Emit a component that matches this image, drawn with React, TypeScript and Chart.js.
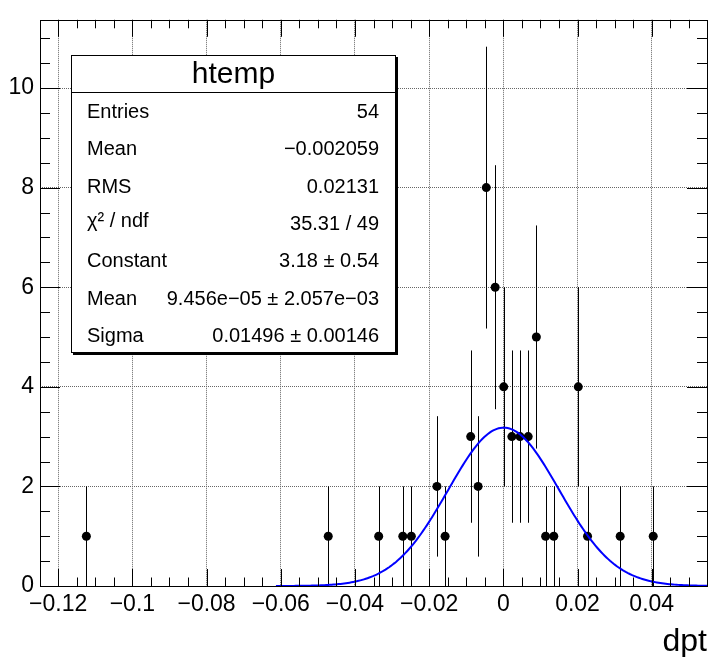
import React, { useEffect, useRef } from "react";
import { Chart, registerables } from "chart.js";

Chart.register(...registerables);

// ---- Data ----
const BIN_CENTERS = [
  -0.1124, -0.0472, -0.0336, -0.0271, -0.0248, -0.0179, -0.0157, -0.0088,
  -0.0068, -0.0046, -0.0022, 0.0001, 0.0023, 0.0045, 0.0067, 0.0089, 0.0114,
  0.0136, 0.0202, 0.0227, 0.0315, 0.0404,
];
const COUNTS = [1, 1, 1, 1, 1, 2, 1, 3, 2, 8, 6, 4, 3, 3, 3, 5, 1, 1, 4, 1, 1, 1];
const ERRORS = [
  1, 1, 1, 1, 1, 1.41, 1, 1.73, 1.41, 2.83, 2.45, 2, 1.73, 1.73, 1.73, 2.24, 1,
  1, 2, 1, 1, 1,
];

// Gaussian fit parameters (shown in the stats box)
const FIT_CONSTANT = 3.18;
const FIT_MEAN = 9.456e-5;
const FIT_SIGMA = 0.01496;
const FIT_XMIN = -0.0613;

// Axes
const X_MIN = -0.1249;
const X_MAX = 0.0549;
const Y_MIN = 0;
const Y_MAX = 11.37;
const X_TICKS = [-0.12, -0.1, -0.08, -0.06, -0.04, -0.02, 0, 0.02, 0.04];
const X_TICK_LABELS = ["\u22120.12", "\u22120.1", "\u22120.08", "\u22120.06", "\u22120.04", "\u22120.02", "0", "0.02", "0.04"];
const Y_TICKS = [0, 2, 4, 6, 8, 10];
const Y_TICK_LABELS = ["0", "2", "4", "6", "8", "10"];
const X_MINOR_STEP = 0.005;
const Y_MINOR_STEP = 0.5;
const X_TITLE = "dpt";

// Stats box
const STATS_TITLE = "htemp";
const STATS_LABELS = ["Entries", "Mean", "RMS", "\u03c7\u00b2 / ndf", "Constant", "Mean", "Sigma"];
const STATS_VALUES = [
  "54",
  "\u22120.002059",
  "0.02131",
  "35.31 / 49",
  "3.18 \u00b1 0.54",
  "9.456e\u221205 \u00b1 2.057e\u221203",
  "0.01496 \u00b1 0.00146",
];

const FONT = "'Liberation Sans', Arial, Helvetica, sans-serif";

function fitCurve() {
  const pts: { x: number; y: number }[] = [];
  const n = 240;
  for (let i = 0; i <= n; i++) {
    const x = FIT_XMIN + ((X_MAX - FIT_XMIN) * i) / n;
    const z = (x - FIT_MEAN) / FIT_SIGMA;
    pts.push({ x, y: FIT_CONSTANT * Math.exp(-0.5 * z * z) });
  }
  return pts;
}

const errorBarsPlugin = {
  id: "errorBars",
  beforeDatasetsDraw(chart: any) {
    const { ctx, scales, chartArea } = chart;
    const xs = scales.x;
    const ys = scales.y;
    ctx.save();
    ctx.beginPath();
    ctx.rect(chartArea.left, chartArea.top, chartArea.right - chartArea.left, chartArea.bottom - chartArea.top);
    ctx.clip();
    ctx.strokeStyle = "#000";
    ctx.lineWidth = 1;
    for (let i = 0; i < BIN_CENTERS.length; i++) {
      const px = Math.round(xs.getPixelForValue(BIN_CENTERS[i])) + 0.5;
      const y1 = ys.getPixelForValue(COUNTS[i] - ERRORS[i]);
      const y2 = ys.getPixelForValue(COUNTS[i] + ERRORS[i]);
      ctx.beginPath();
      ctx.moveTo(px, y1);
      ctx.lineTo(px, y2);
      ctx.stroke();
    }
    ctx.restore();
  },
};

const framePlugin = {
  id: "rootFrame",
  afterDatasetsDraw(chart: any) {
    const { ctx, scales, chartArea } = chart;
    const { left, right, top, bottom } = chartArea;
    const xs = scales.x;
    const ys = scales.y;
    ctx.save();
    ctx.strokeStyle = "#000";
    ctx.lineWidth = 1;
    const xMajLen = 17, xMinLen = 8.5, yMajLen = 20, yMinLen = 10;
    ctx.beginPath();
    const xStart = Math.ceil(X_MIN / X_MINOR_STEP - 1e-9);
    const xEnd = Math.floor(X_MAX / X_MINOR_STEP + 1e-9);
    for (let k = xStart; k <= xEnd; k++) {
      const v = k * X_MINOR_STEP;
      const major = Math.abs(k % 4) === 0;
      const len = major ? xMajLen : xMinLen;
      const px = Math.round(xs.getPixelForValue(v)) + 0.5;
      ctx.moveTo(px, bottom);
      ctx.lineTo(px, bottom - len);
      ctx.moveTo(px, top);
      ctx.lineTo(px, top + len);
    }
    const yEnd = Math.floor(Y_MAX / Y_MINOR_STEP + 1e-9);
    for (let k = 0; k <= yEnd; k++) {
      const v = k * Y_MINOR_STEP;
      const major = k % 4 === 0;
      const len = major ? yMajLen : yMinLen;
      const py = Math.round(ys.getPixelForValue(v)) + 0.5;
      ctx.moveTo(left, py);
      ctx.lineTo(left + len, py);
      ctx.moveTo(right, py);
      ctx.lineTo(right - len, py);
    }
    ctx.stroke();
    ctx.strokeRect(Math.round(left) + 0.5, Math.round(top) + 0.5, Math.round(right - left), Math.round(bottom - top));
    ctx.restore();
  },
  afterDraw(chart: any) {
    const { ctx } = chart;
    const bx = 71, by = 55, bw = 325, bh = 298;
    ctx.save();
    ctx.fillStyle = "#000";
    ctx.fillRect(bx + 2, by + 2, bw, bh);
    ctx.fillStyle = "#fff";
    ctx.fillRect(bx, by, bw, bh);
    ctx.strokeStyle = "#000";
    ctx.lineWidth = 1;
    ctx.strokeRect(bx + 0.5, by + 0.5, bw - 1, bh - 1);
    ctx.beginPath();
    ctx.moveTo(bx, 92.5);
    ctx.lineTo(bx + bw, 92.5);
    ctx.stroke();
    ctx.fillStyle = "#000";
    ctx.font = `30px ${FONT}`;
    ctx.textAlign = "center";
    ctx.textBaseline = "alphabetic";
    ctx.fillText(STATS_TITLE, bx + bw / 2, 83);
    ctx.font = `20px ${FONT}`;
    for (let i = 0; i < STATS_LABELS.length; i++) {
      const base = 118 + i * 37.3;
      ctx.textAlign = "left";
      ctx.fillText(STATS_LABELS[i], 87, i === 3 ? base - 3 : base);
      ctx.textAlign = "right";
      ctx.fillText(STATS_VALUES[i], 379, base);
    }
    ctx.restore();
  },
};

export default function App() {
  const canvasRef = useRef<HTMLCanvasElement | null>(null);

  useEffect(() => {
    document.body.style.margin = "0";
    const canvas = canvasRef.current;
    if (!canvas) return;
    const points = BIN_CENTERS.map((x, i) => ({ x, y: COUNTS[i] }));
    const chart = new Chart(canvas, {
      type: "scatter",
      data: {
        datasets: [
          {
            type: "line",
            label: "fit",
            data: fitCurve(),
            borderColor: "#0000ff",
            borderWidth: 2,
            pointRadius: 0,
            fill: false,
            tension: 0,
            order: 0,
          } as any,
          {
            type: "scatter",
            label: "htemp",
            data: points,
            pointRadius: 4.5,
            pointHoverRadius: 4.5,
            backgroundColor: "#000",
            borderColor: "#000",
            borderWidth: 0,
            order: 1,
          } as any,
        ],
      },
      options: {
        animation: false,
        responsive: false,
        events: [],
        layout: { padding: { left: 0, top: 8, right: 5, bottom: 0 } },
        plugins: {
          legend: { display: false },
          tooltip: { enabled: false },
        },
        scales: {
          x: {
            type: "linear",
            min: X_MIN,
            max: X_MAX,
            afterFit: (s: any) => {
              s.height = 71;
            },
            afterBuildTicks: (s: any) => {
              s.ticks = X_TICKS.map((v) => ({ value: v }));
            },
            ticks: {
              callback: (_v: any, i: number) => X_TICK_LABELS[i],
              font: { family: FONT, size: 23 },
              color: "#000",
              padding: 5,
              maxRotation: 0,
              autoSkip: false,
            },
            grid: { drawTicks: false, color: "#666", lineWidth: 1 },
            border: { display: false, dash: [1, 1] },
            title: {
              display: true,
              text: X_TITLE,
              align: "end",
              color: "#000",
              font: { family: FONT, size: 32 },
              padding: { top: 0, bottom: -4 },
            },
          },
          y: {
            type: "linear",
            min: Y_MIN,
            max: Y_MAX,
            afterFit: (s: any) => {
              s.width = 40;
            },
            afterBuildTicks: (s: any) => {
              s.ticks = Y_TICKS.map((v) => ({ value: v }));
            },
            ticks: {
              callback: (_v: any, i: number) => Y_TICK_LABELS[i],
              font: { family: FONT, size: 23 },
              color: "#000",
              padding: 6,
              autoSkip: false,
            },
            grid: { drawTicks: false, color: "#666", lineWidth: 1 },
            border: { display: false, dash: [1, 1] },
          },
        },
      },
      plugins: [errorBarsPlugin, framePlugin],
    } as any);
    return () => chart.destroy();
  }, []);

  return (
    <canvas
      ref={canvasRef}
      width={712}
      height={657}
      style={{ display: "block", width: 712, height: 657 }}
    />
  );
}
